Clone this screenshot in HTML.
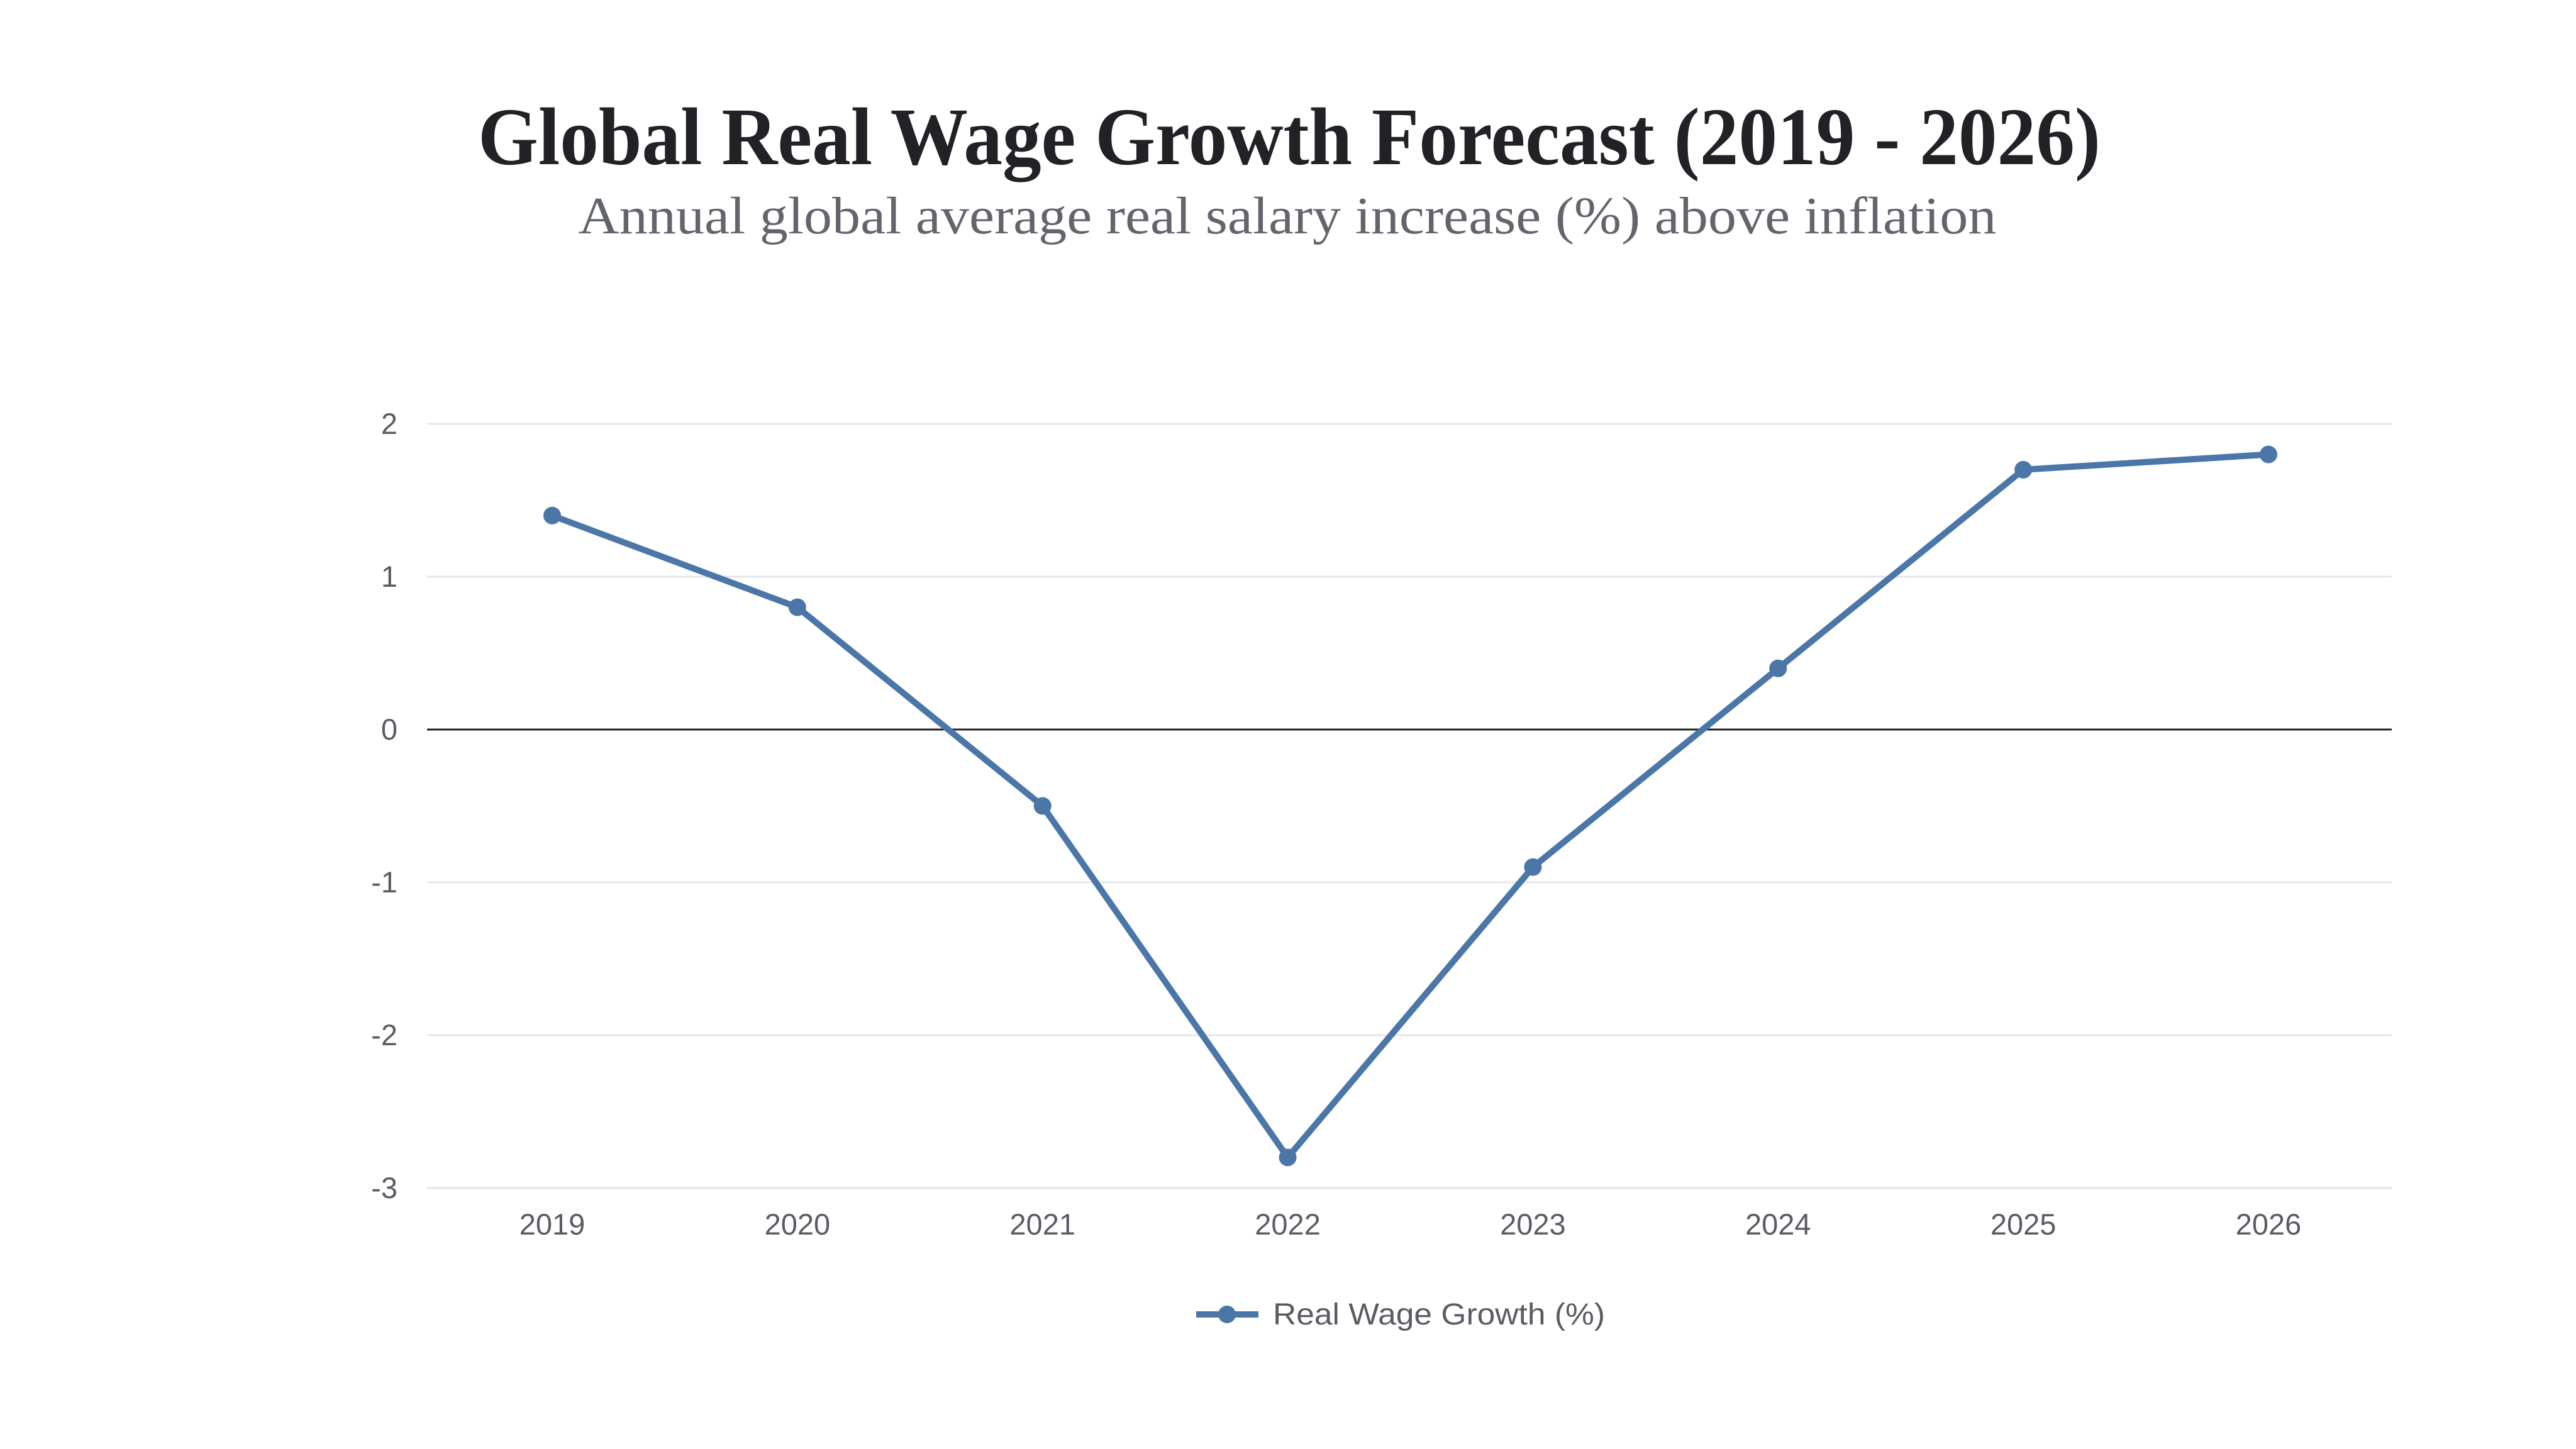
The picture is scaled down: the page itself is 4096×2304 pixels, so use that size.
<!DOCTYPE html>
<html><head><meta charset="utf-8"><style>
html,body{margin:0;padding:0;background:#fff;}
svg{display:block;}
</style></head><body>
<svg id="chart" width="4096" height="2304" viewBox="0 0 4096 2304" xmlns="http://www.w3.org/2000/svg">
<text x="2050" y="261" text-anchor="middle" font-family="Liberation Serif, serif" font-weight="bold" font-size="130" fill="#212226" textLength="2580" lengthAdjust="spacingAndGlyphs">Global Real Wage Growth Forecast (2019 - 2026)</text>
<text x="2047" y="371" text-anchor="middle" font-family="Liberation Serif, serif" font-size="84" fill="#62656b" textLength="2255" lengthAdjust="spacingAndGlyphs">Annual global average real salary increase (%) above inflation</text>
<g id="grid"></g>
<g id="series"></g>
<g>
<line x1="1902" y1="2090" x2="2001" y2="2090" stroke="#4a76a8" stroke-width="10"/>
<circle cx="1951" cy="2090" r="14" fill="#4a76a8"/>
<text x="2024" y="2106" font-family="Liberation Sans, sans-serif" font-size="48" fill="#595c62" textLength="528" lengthAdjust="spacingAndGlyphs">Real Wage Growth (%)</text>
</g>
</svg>
<script>
const categories = ["2019","2020","2021","2022","2023","2024","2025","2026"];
const values = [1.4, 0.8, -0.5, -2.8, -0.9, 0.4, 1.7, 1.8];
const yTicks = [2, 1, 0, -1, -2, -3];
const yTickLabels = ["2","1","0","-1","-2","-3"];

const NS = "http://www.w3.org/2000/svg";
const plotL = 679, plotR = 3803, yTop = 674, yBot = 1889;
const yMax = 2, yMin = -3;
function yScale(v){ return yTop + (yMax - v) / (yMax - yMin) * (yBot - yTop); }
function xScale(i){ return 878 + i * (3607 - 878) / (categories.length - 1); }
function mk(tag, attrs, parent){ const e = document.createElementNS(NS, tag); for (const k in attrs) e.setAttribute(k, attrs[k]); parent.appendChild(e); return e; }

const grid = document.getElementById('grid');
yTicks.forEach((t, i) => {
  const y = yScale(t);
  const ln = mk('line', {x1: plotL, x2: plotR, y1: y, y2: y, stroke: t === 0 ? '#222' : '#e4e6e9', 'stroke-width': 3}, grid);
  
  
  const tx = mk('text', {x: 632, y: y + 16, 'text-anchor': 'end', 'font-family': 'Liberation Sans, sans-serif', 'font-size': 47, fill: '#595c62'}, grid);
  tx.textContent = yTickLabels[i];
  
  
});
categories.forEach((c, i) => {
  const tx = mk('text', {x: xScale(i), y: 1963, 'text-anchor': 'middle', 'font-family': 'Liberation Sans, sans-serif', 'font-size': 47, fill: '#595c62'}, grid);
  tx.textContent = c;
  
  
});
const series = document.getElementById('series');
const pts = values.map((v, i) => xScale(i) + ',' + yScale(v)).join(' ');
const pl = mk('polyline', {points: pts, fill: 'none', stroke: '#4a76a8', 'stroke-width': 10, 'stroke-linejoin': 'round'}, series);


values.forEach((v, i) => {
  const c = mk('circle', {cx: xScale(i), cy: yScale(v), r: 14, fill: '#4a76a8'}, series);
  
  
});
</script>
</body></html>
